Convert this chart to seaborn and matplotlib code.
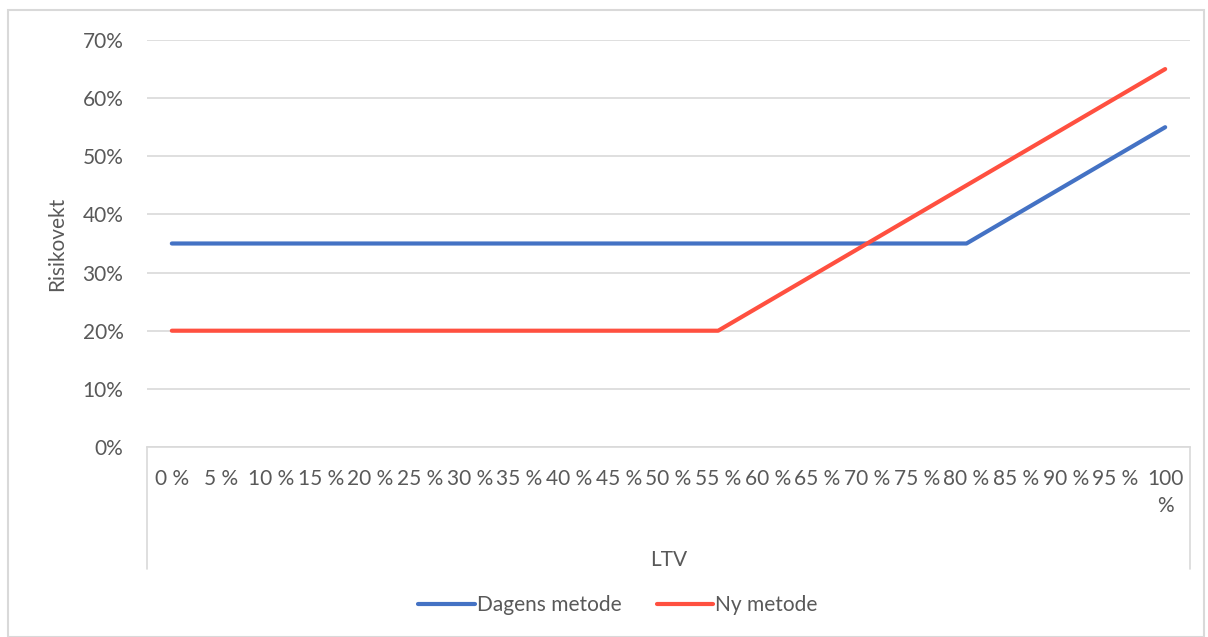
import numpy as np
import pandas as pd
import matplotlib.pyplot as plt
import matplotlib.patches as patches
import seaborn as sns

ltv_labels = ['0 %', '5 %', '10 %', '15 %', '20 %', '25 %', '30 %', '35 %', '40 %', '45 %',
              '50 %', '55 %', '60 %', '65 %', '70 %', '75 %', '80 %', '85 %', '90 %', '95 %', '100\n%']
dagens = [0.35] * 17 + [0.40, 0.45, 0.50, 0.55]
ny = [0.20] * 12 + [0.25, 0.30, 0.35, 0.40, 0.45, 0.50, 0.55, 0.60, 0.65]
series_names = ['Dagens metode', 'Ny metode']

sns.set_style('white')
plt.rcParams['font.family'] = ['Lato', 'DejaVu Sans']
grey = '#595959'
fs = 15

pos = np.arange(len(ltv_labels))
df = pd.DataFrame({
    'pos': np.concatenate([pos, pos]),
    'verdi': dagens + ny,
    'serie': [series_names[0]] * len(pos) + [series_names[1]] * len(pos),
})

fig = plt.figure(figsize=(12.08, 6.37), dpi=100)
ax = fig.add_axes([147 / 1208, 1 - 447 / 637, (1190 - 147) / 1208, (447 - 40) / 637])

sns.lineplot(data=df, x='pos', y='verdi', hue='serie', palette=['#4472C4', '#FF5040'],
             linewidth=3, ax=ax, legend=True)

ax.set_xlim(-0.5, len(ltv_labels) - 0.5)
ax.set_ylim(0, 0.7)
ax.set_yticks(np.arange(0, 0.71, 0.1))
ax.set_yticklabels([f'{int(round(v * 100))}%' for v in np.arange(0, 0.71, 0.1)])
ax.set_xticks(pos)
ax.set_xticklabels(ltv_labels, va='top', ha='center', linespacing=1.45)
ax.tick_params(axis='both', length=0, labelsize=fs, colors=grey)
ax.tick_params(axis='x', pad=16)
ax.tick_params(axis='y', pad=17)
ax.grid(axis='y', color='#D9D9D9', linewidth=1.2)
for s in ['top', 'right', 'left']:
    ax.spines[s].set_visible(False)
ax.spines['bottom'].set_color('#D9D9D9')
ax.spines['bottom'].set_linewidth(1.2)

# category axis box lines below the plot
for xv in [0, 1]:
    ax.plot([xv, xv], [0, -0.3], transform=ax.transAxes, color='#D9D9D9', lw=1.2, clip_on=False)

ax.set_xlabel('LTV', fontsize=fs, color=grey, labelpad=24)
ax.set_ylabel('Risikovekt', fontsize=fs, color=grey, labelpad=11)

leg = ax.legend(loc='center', bbox_to_anchor=(618 / 1208, 1 - 605 / 637), bbox_transform=fig.transFigure,
                ncol=2, frameon=False, fontsize=fs, handlelength=2.7, handletextpad=0.1,
                columnspacing=1.7, labelcolor=grey)
for h in leg.get_lines():
    h.set_solid_capstyle('round')

fig.patches.append(patches.Rectangle((8 / 1208, 0), 1196 / 1208, 1 - 10 / 637, transform=fig.transFigure,
                                     fill=False, edgecolor='#D9D9D9', linewidth=1.5))

fig.savefig('out.png', dpi=100)
